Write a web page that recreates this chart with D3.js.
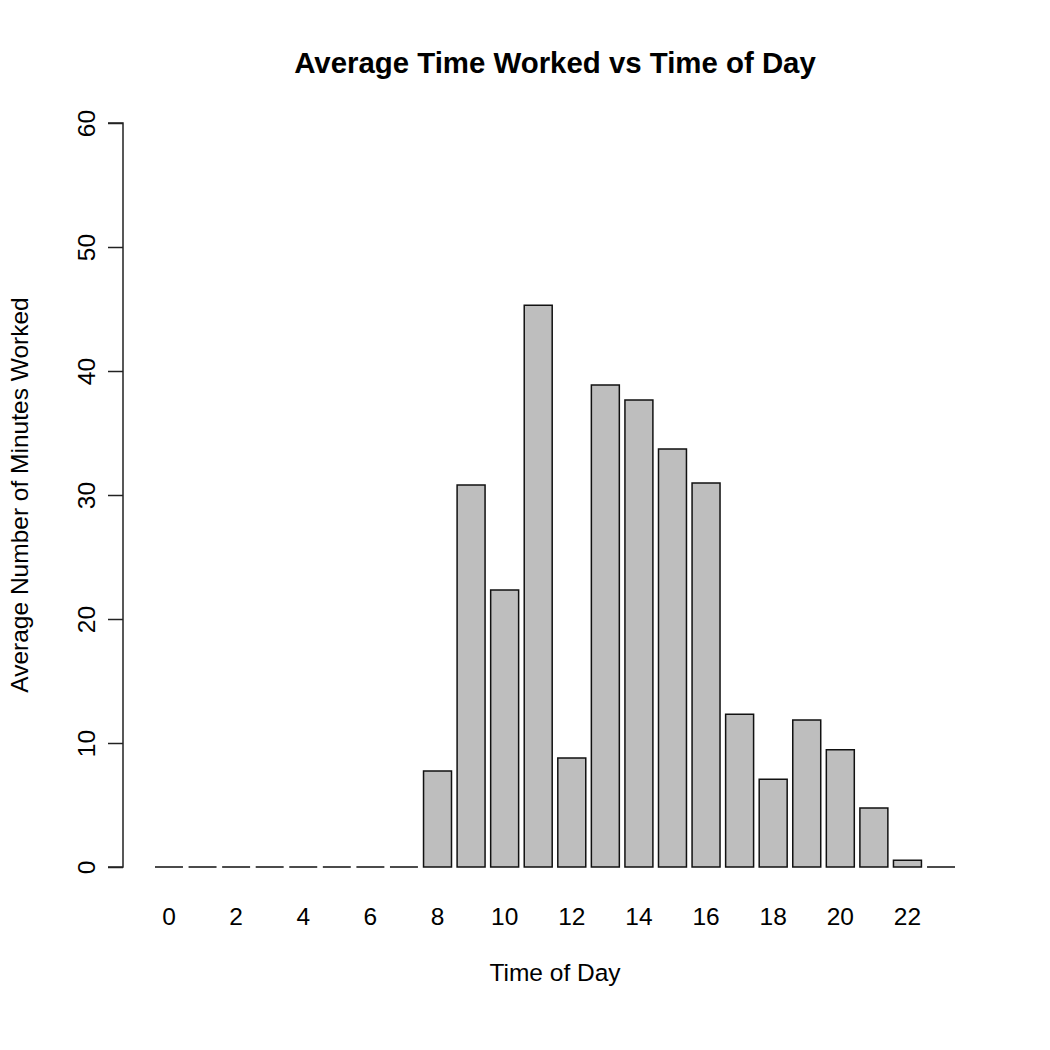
<!DOCTYPE html>
<html>
<head>
<meta charset="utf-8">
<script src="https://cdn.jsdelivr.net/npm/d3@7"></script>
<style>
  body { margin: 0; background: #fff; }
  text { font-family: "Liberation Sans", Arial, sans-serif; fill: #000; }
</style>
</head>
<body>
<div id="chart"></div>
<script>
// hours of the day and average minutes worked in each
var hours = d3.range(0, 24);
var minutes = [0, 0, 0, 0, 0, 0, 0, 0, 7.74, 30.8, 22.34, 45.3, 8.79, 38.87,
               37.66, 33.7, 30.97, 12.31, 7.07, 11.85, 9.46, 4.76, 0.54, 0];
var hourLabels = [0, 2, 4, 6, 8, 10, 12, 14, 16, 18, 20, 22];
var yTicks = [0, 10, 20, 30, 40, 50, 60];

var w = 1050, h = 1050;
var svg = d3.select("#chart").append("svg").attr("width", w).attr("height", h);

var x = d3.scaleBand().domain(hours).range([155, 955])
    .paddingInner(0.2 / 1.2).paddingOuter(0);
var y = d3.scaleLinear().domain([0, 60]).range([867, 123]);

// bars as closed paths so zero values still show their outline
svg.selectAll("path.bar").data(minutes).enter().append("path")
    .attr("class", "bar")
    .attr("d", function (d, i) {
        var x0 = x(hours[i]), x1 = x0 + x.bandwidth();
        return "M" + x0 + "," + y(0) + "V" + y(d) + "H" + x1 + "V" + y(0) + "Z";
    })
    .style("fill", "#bebebe")
    .style("stroke", "#111")
    .style("stroke-width", 1.5);

// y axis
var yAxis = svg.append("g").attr("transform", "translate(123,0)")
    .call(d3.axisLeft(y).tickValues(yTicks).tickSize(15).tickPadding(0).tickFormat(d3.format("d")));
yAxis.select(".domain").attr("d", "M-15," + y(0) + "H0V" + y(60) + "H-15")
    .style("stroke", "#222").style("stroke-width", 1.5);
yAxis.selectAll(".tick line").style("stroke", "#222").style("stroke-width", 1.5);
yAxis.selectAll(".tick text")
    .attr("transform", "translate(-37,0) rotate(-90)")
    .attr("x", 0).attr("dy", "0.35em")
    .style("text-anchor", "middle")
    .style("font-size", "24.5px")
    .style("font-family", "Liberation Sans, Arial, sans-serif")
    .style("fill", "#000");

// hour labels under the bars
svg.selectAll("text.hour").data(hourLabels).enter().append("text")
    .attr("class", "hour")
    .attr("x", function (d) { return x(d) + x.bandwidth() / 2; })
    .attr("y", 925)
    .style("text-anchor", "middle")
    .style("font-size", "24.5px")
    .text(function (d) { return d; });

// titles
svg.append("text").attr("x", 555).attr("y", 73)
    .style("text-anchor", "middle").style("font-size", "29.4px").style("font-weight", "bold")
    .text("Average Time Worked vs Time of Day");

svg.append("text").attr("x", 555).attr("y", 981)
    .style("text-anchor", "middle").style("font-size", "24.5px")
    .text("Time of Day");

svg.append("text").attr("transform", "translate(28,495) rotate(-90)")
    .style("text-anchor", "middle").style("font-size", "24.5px")
    .text("Average Number of Minutes Worked");
</script>
</body>
</html>
